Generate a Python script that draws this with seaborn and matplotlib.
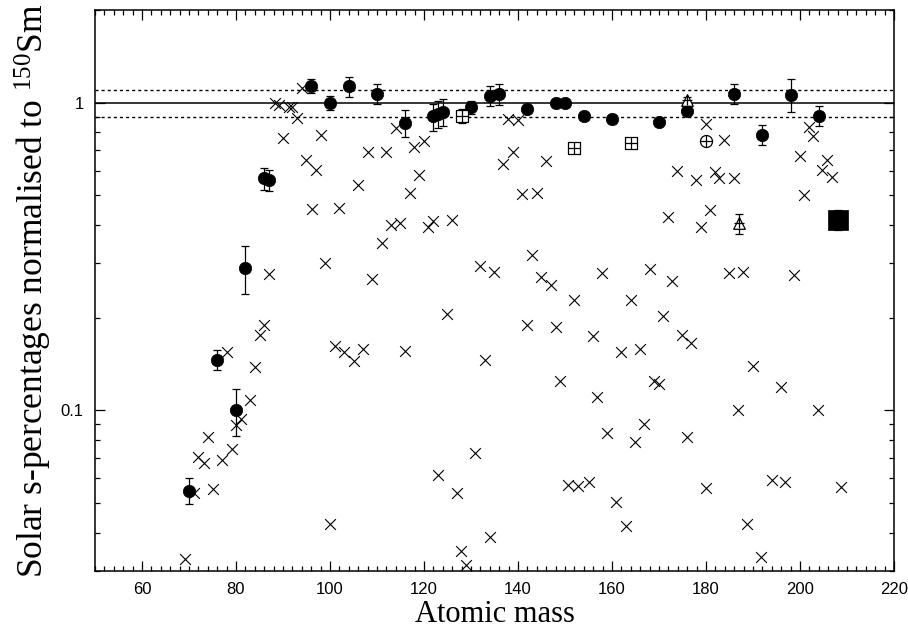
import numpy as np
import pandas as pd
import matplotlib
matplotlib.use("Agg")
import matplotlib.pyplot as plt
import matplotlib.ticker as mticker
import seaborn as sns

# ---------------- data ----------------
# crosses (solar s-process percentages, isotopes)
cross_x = [94, 88.2, 89.2, 91.3, 92.0, 93.0, 90.1, 98.1, 95.0, 97.0, 106.0, 96.1, 102.0, 87.0, 99.0,
           114.0, 108.0, 111.9, 117.9, 119.9, 119.0, 117.0, 113.0, 114.9, 120.9, 122.0, 126.0, 111.0,
           109.0, 131.9, 134.9, 137.8, 139.9, 138.9, 136.9, 146.0, 140.9, 144.0, 142.9, 144.9, 147.0,
           157.9, 152.0, 164.0,
           179.9, 183.9, 201.9, 202.8, 199.9, 205.8, 204.7, 206.9, 200.9, 173.9, 177.9, 181.9, 182.8,
           186.0, 180.9, 172.0, 178.9, 168.0, 172.8, 184.9, 187.9, 198.7,
           78.0, 86.0, 85.1, 84.0, 83.0, 81.0, 80.0, 79.1, 77.1, 74.0, 72.0, 73.2, 75.2, 71.1, 69.1,
           100.0, 101.1, 103.0, 105.1, 107.1,
           116.0, 125.0, 133.0, 142.0, 148.0, 155.9, 161.9, 166.0, 148.9, 156.9, 158.9, 164.9, 130.9,
           122.9, 127.0, 150.7, 152.8, 155.0, 160.9, 162.9, 134.0, 127.9, 128.9,
           170.8, 174.8, 176.8, 189.9, 168.9, 170.0, 195.9, 186.9, 203.9, 166.9, 175.9, 180.0, 194.0,
           196.8, 208.7, 188.8, 191.8]
cross_y = [1.12, 1.0, 0.985, 0.965, 0.97, 0.89, 0.77, 0.787, 0.652, 0.605, 0.539, 0.45, 0.453, 0.278, 0.302,
           0.829, 0.689, 0.693, 0.719, 0.752, 0.581, 0.508, 0.40, 0.406, 0.395, 0.413, 0.415, 0.351,
           0.268, 0.294, 0.282, 0.888, 0.88, 0.693, 0.632, 0.644, 0.504, 0.51, 0.32, 0.271, 0.256,
           0.28, 0.229, 0.229,
           0.852, 0.758, 0.835, 0.781, 0.669, 0.652, 0.605, 0.574, 0.502, 0.598, 0.562, 0.596, 0.567,
           0.569, 0.447, 0.426, 0.393, 0.288, 0.263, 0.279, 0.282, 0.276,
           0.155, 0.189, 0.175, 0.138, 0.108, 0.0937, 0.0893, 0.0745, 0.0687, 0.0817, 0.0705, 0.0674,
           0.0556, 0.0538, 0.0329,
           0.0428, 0.1616, 0.155, 0.1446, 0.158,
           0.156, 0.205, 0.146, 0.189, 0.186, 0.174, 0.155, 0.158, 0.124, 0.11, 0.0844, 0.0788, 0.0726,
           0.0617, 0.0538, 0.0573, 0.0566, 0.0584, 0.0503, 0.0421, 0.0386, 0.0349, 0.0313,
           0.202, 0.176, 0.165, 0.139, 0.124, 0.122, 0.119, 0.1005, 0.1005, 0.0902, 0.0817, 0.0558,
           0.0595, 0.0585, 0.0563, 0.0428, 0.0332]

# filled circles (s-only isotopes) with asymmetric error ranges
circ_x = [70, 76, 80, 82, 86, 87, 96, 100, 104, 110, 116, 122, 123, 124, 130, 134, 136,
          142, 148, 150, 154, 160, 170, 176, 186, 192, 198, 204]
circ_y = [0.0548, 0.146, 0.100, 0.291, 0.567, 0.56, 1.13, 0.995, 1.13, 1.07, 0.859, 0.902, 0.919,
          0.935, 0.97, 1.054, 1.067, 0.954, 0.998, 1.0, 0.907, 0.885, 0.867, 0.942, 1.067, 0.787,
          1.06, 0.907]
circ_lo = [0.0494, 0.135, 0.0825, 0.238, 0.52, 0.515, 1.072, 0.949, 1.04, 0.99, 0.775, 0.81, 0.83,
           0.837, 0.919, 0.973, 0.985, 0.954, 0.998, 1.0, 0.907, 0.885, 0.867, 0.942, 0.99, 0.73,
           0.93, 0.837]
circ_hi = [0.0604, 0.157, 0.1176, 0.341, 0.611, 0.605, 1.194, 1.048, 1.21, 1.15, 0.949, 0.99, 1.015,
           1.03, 1.015, 1.13, 1.15, 0.954, 0.998, 1.0, 0.907, 0.885, 0.867, 0.942, 1.15, 0.848,
           1.194, 0.973]

# boxed plus
box_x = [128, 152, 164]
box_y = [0.905, 0.714, 0.737]
box_lo = [0.859, 0.714, 0.737]
box_hi = [0.954, 0.714, 0.737]

# triangle plus
tri_x = [176, 187]
tri_y = [1.023, 0.405]
tri_lo = [1.0, 0.373]
tri_hi = [1.045, 0.435]

# circle plus
cp_x = [180]
cp_y = [0.748]

# big filled square
sq_x = [208]
sq_y = [0.416]
sq_lo = [0.385]
sq_hi = [0.447]

ref_line = 1.0
band = [0.9, 1.1]

# ---------------- plot ----------------
sns.set_theme(style="ticks")
plt.rcParams["font.family"] = ["Liberation Sans", "DejaVu Sans"]
plt.rcParams["mathtext.fontset"] = "custom"
plt.rcParams["mathtext.rm"] = "Liberation Serif"
plt.rcParams["mathtext.it"] = "Liberation Serif:italic"

fig = plt.figure(figsize=(9.08, 6.33), dpi=100)
ax = fig.add_axes([0.1046, 0.098, 0.88, 0.886])

ax.axhline(ref_line, color="black", lw=1.1, zorder=1)
for b in band:
    ax.axhline(b, color="black", lw=1.0, ls=(0, (2.2, 2.2)), zorder=1)

df_cross = pd.DataFrame({"x": cross_x, "y": cross_y})
sns.scatterplot(data=df_cross, x="x", y="y", ax=ax, marker="x", s=60, color="black",
                linewidth=0.8, zorder=3)

def errs(y, lo, hi):
    y = np.asarray(y); return [y - np.asarray(lo), np.asarray(hi) - y]

ax.errorbar(circ_x, circ_y, yerr=errs(circ_y, circ_lo, circ_hi), fmt="none",
            ecolor="black", elinewidth=0.9, capsize=3, capthick=0.9, zorder=2)
ax.errorbar(box_x, box_y, yerr=errs(box_y, box_lo, box_hi), fmt="none",
            ecolor="black", elinewidth=0.9, capsize=3, capthick=0.9, zorder=2)
ax.errorbar(tri_x, tri_y, yerr=errs(tri_y, tri_lo, tri_hi), fmt="none",
            ecolor="black", elinewidth=0.9, capsize=3, capthick=0.9, zorder=2)
ax.errorbar(sq_x, sq_y, yerr=errs(sq_y, sq_lo, sq_hi), fmt="none",
            ecolor="black", elinewidth=0.9, capsize=3, capthick=0.9, zorder=2)

df_c = pd.DataFrame({"x": circ_x, "y": circ_y})
sns.scatterplot(data=df_c, x="x", y="y", ax=ax, marker="o", s=80, color="black",
                edgecolor="black", linewidth=0.5, zorder=4)

df_b = pd.DataFrame({"x": box_x, "y": box_y})
sns.scatterplot(data=df_b, x="x", y="y", ax=ax, marker="s", s=70, facecolor="white",
                edgecolor="black", linewidth=0.9, zorder=4)
sns.scatterplot(data=df_b, x="x", y="y", ax=ax, marker="+", s=70, color="black",
                linewidth=0.9, zorder=5)

df_t = pd.DataFrame({"x": tri_x, "y": tri_y})
sns.scatterplot(data=df_t, x="x", y="y", ax=ax, marker="^", s=70, facecolor="white",
                edgecolor="black", linewidth=0.9, zorder=4)
sns.scatterplot(data=df_t, x="x", y="y", ax=ax, marker="+", s=55, color="black",
                linewidth=0.9, zorder=5)

df_cp = pd.DataFrame({"x": cp_x, "y": cp_y})
sns.scatterplot(data=df_cp, x="x", y="y", ax=ax, marker="o", s=75, facecolor="white",
                edgecolor="black", linewidth=0.9, zorder=4)
sns.scatterplot(data=df_cp, x="x", y="y", ax=ax, marker="+", s=75, color="black",
                linewidth=0.9, zorder=5)

df_sq = pd.DataFrame({"x": sq_x, "y": sq_y})
sns.scatterplot(data=df_sq, x="x", y="y", ax=ax, marker="s", s=190, color="black",
                edgecolor="black", linewidth=0.5, zorder=4)

ax.set_yscale("log")
ax.set_xlim(50, 220)
ax.set_ylim(0.03, 2.0)

ax.xaxis.set_major_locator(mticker.MultipleLocator(20))
ax.xaxis.set_minor_locator(mticker.MultipleLocator(2))
ax.xaxis.set_major_formatter(mticker.FuncFormatter(lambda v, p: "" if v <= 50 else f"{v:.0f}"))
ax.yaxis.set_major_locator(mticker.FixedLocator([0.1, 1]))
ax.yaxis.set_major_formatter(mticker.FixedFormatter(["0.1", "1"]))
ax.yaxis.set_minor_locator(mticker.LogLocator(base=10, subs=np.arange(2, 10)))
ax.yaxis.set_minor_formatter(mticker.NullFormatter())

ax.tick_params(which="both", direction="in", top=True, right=True, color="black",
               width=0.9, labelsize=12, labelcolor="black")
ax.tick_params(which="major", length=7)
ax.tick_params(which="minor", length=3.5)
ax.tick_params(axis="x", pad=8)
ax.tick_params(axis="y", pad=8)
for sp in ax.spines.values():
    sp.set_visible(True)
    sp.set_color("black")
    sp.set_linewidth(1.1)

ax.set_xlabel("Atomic mass", family=["Liberation Serif", "DejaVu Serif"], fontsize=22,
              color="black", labelpad=2)
ax.set_ylabel(r"Solar s-percentages normalised to $^{150}$Sm",
              family=["Liberation Serif", "DejaVu Serif"], fontsize=25.5, color="black", labelpad=5)

fig.savefig("out.png", dpi=100, facecolor="white")
